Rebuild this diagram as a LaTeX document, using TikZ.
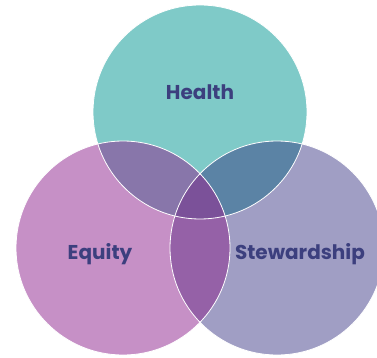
\documentclass[tikz,border=0pt]{standalone}
\usepackage{fontspec}
\setsansfont{Poppins}
\usepackage{tikz}
\usetikzlibrary{positioning}
\definecolor{tealhealth}{RGB}{127,202,200}
\definecolor{pinkequity}{RGB}{198,144,198}
\definecolor{lavsteward}{RGB}{160,158,196}
\definecolor{mixhe}{RGB}{136,118,170}
\definecolor{mixhs}{RGB}{91,131,165}
\definecolor{mixes}{RGB}{149,97,167}
\definecolor{mixall}{RGB}{123,81,153}
\definecolor{navytext}{RGB}{60,63,126}

\begin{document}
\begin{tikzpicture}[x=1pt, y=-1pt, ring/.style={draw=white, line width=0.8pt},
        word/.style={text=navytext, font=\sffamily\bfseries\fontsize{20}{24}\selectfont}]
        \useasboundingbox (0,0) rectangle (377,358);
        		\coordinate (h) at (200,112);
                \coordinate (e) at (123,248);
                \coordinate (s) at (277,248);

            % circles
            \fill[tealhealth] (h) circle[radius=107];
            \fill[pinkequity] (e) circle[radius=107];
            \fill[lavsteward] (s) circle[radius=107];

            % overlaps
            \begin{scope}
                \clip (h) circle[radius=107];
                \fill[mixhe] (e) circle[radius=107];
                \fill[mixhs] (s) circle[radius=107];
            \end{scope}
            \begin{scope}
                \clip (e) circle[radius=107];
                \fill[mixes] (s) circle[radius=107];
                \clip (s) circle[radius=107];
                \fill[mixall] (h) circle[radius=107];
            \end{scope}

            \draw[ring] (h) circle[radius=107];
            \draw[ring] (e) circle[radius=107];
            \draw[ring] (s) circle[radius=107];

            \node[word] (health)  at (200,92)  {Health};
            \node[word] (equity)  at (100,254) {Equity};
            \node[word] (steward) at (300,254) {Stewardship};
        	\end{tikzpicture}
\end{document}
